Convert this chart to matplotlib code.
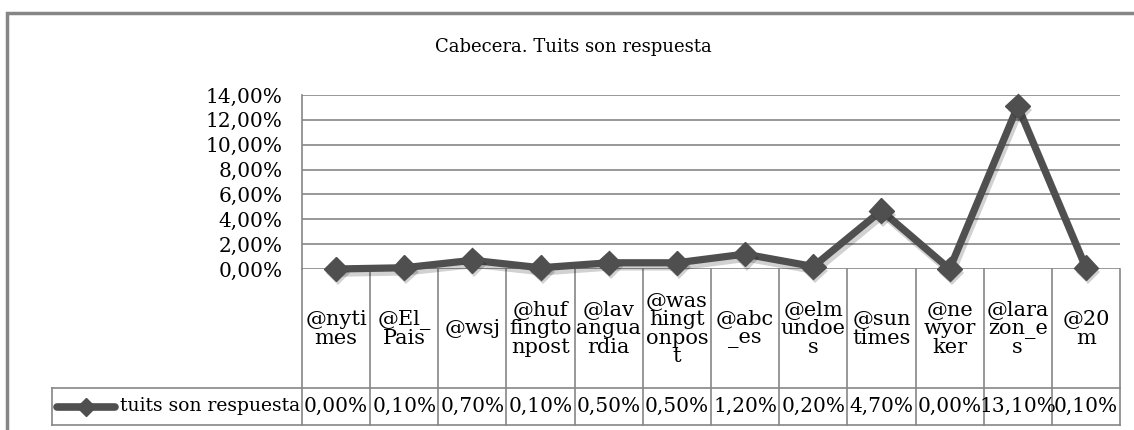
import matplotlib
matplotlib.use("Agg")
import matplotlib.pyplot as plt
import matplotlib.patheffects as pe
from matplotlib.transforms import blended_transform_factory
from matplotlib.lines import Line2D
from matplotlib.patches import Rectangle

# ---------------- data ----------------
title = "Cabecera. Tuits son respuesta"
series_name = "tuits son respuesta"
categories = ["@nyti\nmes", "@El_\nPais", "@wsj", "@huf\nfingto\nnpost",
              "@lav\nangua\nrdia", "@was\nhingt\nonpos\nt", "@abc\n_es",
              "@elm\nundoe\ns", "@sun\ntimes", "@ne\nwyor\nker",
              "@lara\nzon_e\ns", "@20\nm"]
values = [0.0, 0.1, 0.7, 0.1, 0.5, 0.5, 1.2, 0.2, 4.7, 0.0, 13.1, 0.1]  # percent
yticks = [0, 2, 4, 6, 8, 10, 12, 14]
ytick_labels = ["0,00%", "2,00%", "4,00%", "6,00%", "8,00%", "10,00%", "12,00%", "14,00%"]


def fmt(v):
    return f"{v:.2f}".replace(".", ",") + "%"


plt.rcParams["font.family"] = ["DejaVu Serif"]

W, H = 1134, 430
LEFT, RIGHT, TOP, ZERO, ROW1, ROW2, LEG_LEFT = 302, 1120, 95, 269, 388, 425, 52
GRID = "#868686"
LINE = "#4f4f4f"

fig = plt.figure(figsize=(W / 100, H / 100), dpi=100)
ax = fig.add_axes([LEFT / W, 1 - ZERO / H, (RIGHT - LEFT) / W, (ZERO - TOP) / H])
n = len(values)
ax.set_xlim(-0.5, n - 0.5)
ax.set_ylim(0, 14)
for s in ["top", "right", "bottom"]:
    ax.spines[s].set_visible(False)
ax.spines["left"].set_color(GRID)
ax.spines["left"].set_linewidth(1.2)
ax.set_yticks(yticks)
ax.set_yticklabels(ytick_labels)
ax.tick_params(axis="y", length=0, pad=14, labelsize=14.5)
ax.set_xticks([])
ax.grid(axis="y", color=GRID, lw=1.2)
ax.set_axisbelow(True)

x = list(range(n))
ax.plot(x, values, color=LINE, lw=5.2, clip_on=False, zorder=5,
        solid_joinstyle="miter",
        path_effects=[pe.SimpleLineShadow(offset=(1.5, -3), shadow_color="k", alpha=0.18),
                      pe.Normal()])
ax.plot(x, values, ls="none", marker="D", ms=12.5, color=LINE, mec=LINE,
        clip_on=False, zorder=6,
        path_effects=[pe.SimplePatchShadow(offset=(1.5, -3), shadow_rgbFace="k", alpha=0.18),
                      pe.Normal()])

# ---------------- data table ----------------
ph = ZERO - TOP
r1 = -(ROW1 - ZERO) / ph
r2 = -(ROW2 - ZERO) / ph
xpp = n / (RIGHT - LEFT)
x_leg = -0.5 + (LEG_LEFT - LEFT) * xpp
trans = blended_transform_factory(ax.transData, ax.transAxes)
lkw = dict(color=GRID, lw=1.2, transform=trans, clip_on=False)

for i in range(n + 1):
    ax.add_line(Line2D([i - 0.5, i - 0.5], [0, r2], **lkw))
ax.add_line(Line2D([x_leg, n - 0.5], [r1, r1], **lkw))
ax.add_line(Line2D([x_leg, n - 0.5], [r2, r2], **lkw))
ax.add_line(Line2D([x_leg, x_leg], [r1, r2], **lkw))

cat_y = -(329 - ZERO) / ph
val_y = (r1 + r2) / 2
for i, (c, v) in enumerate(zip(categories, values)):
    ax.text(i, cat_y, c, ha="center", va="center", transform=trans,
            fontsize=15, linespacing=0.95, multialignment="center")
    ax.text(i, val_y, fmt(v), ha="center", va="center", transform=trans,
            fontsize=14.5)

# legend key
lx0 = -0.5 + (57 - LEFT) * xpp
lx1 = -0.5 + (115 - LEFT) * xpp
ax.add_line(Line2D([lx0, lx1], [val_y, val_y], color=LINE, lw=5.5,
                   solid_capstyle="round", transform=trans, clip_on=False))
ax.add_line(Line2D([(lx0 + lx1) / 2], [val_y], color=LINE, marker="D", ms=9,
                   ls="none", transform=trans, clip_on=False))
ax.text(-0.5 + (300 - LEFT) * xpp, val_y, series_name, ha="right", va="center",
        transform=trans, fontsize=13.5)

# title
fig.text(573 / W, 1 - 47 / H, title, ha="center", va="center", fontsize=13)

# outer chart frame
fig.patches.append(Rectangle((7 / W, -0.2), 1.2, 1.2 - 13 / H, transform=fig.transFigure,
                             fill=False, ec=GRID, lw=2.5))

fig.savefig("out.png", dpi=100)
